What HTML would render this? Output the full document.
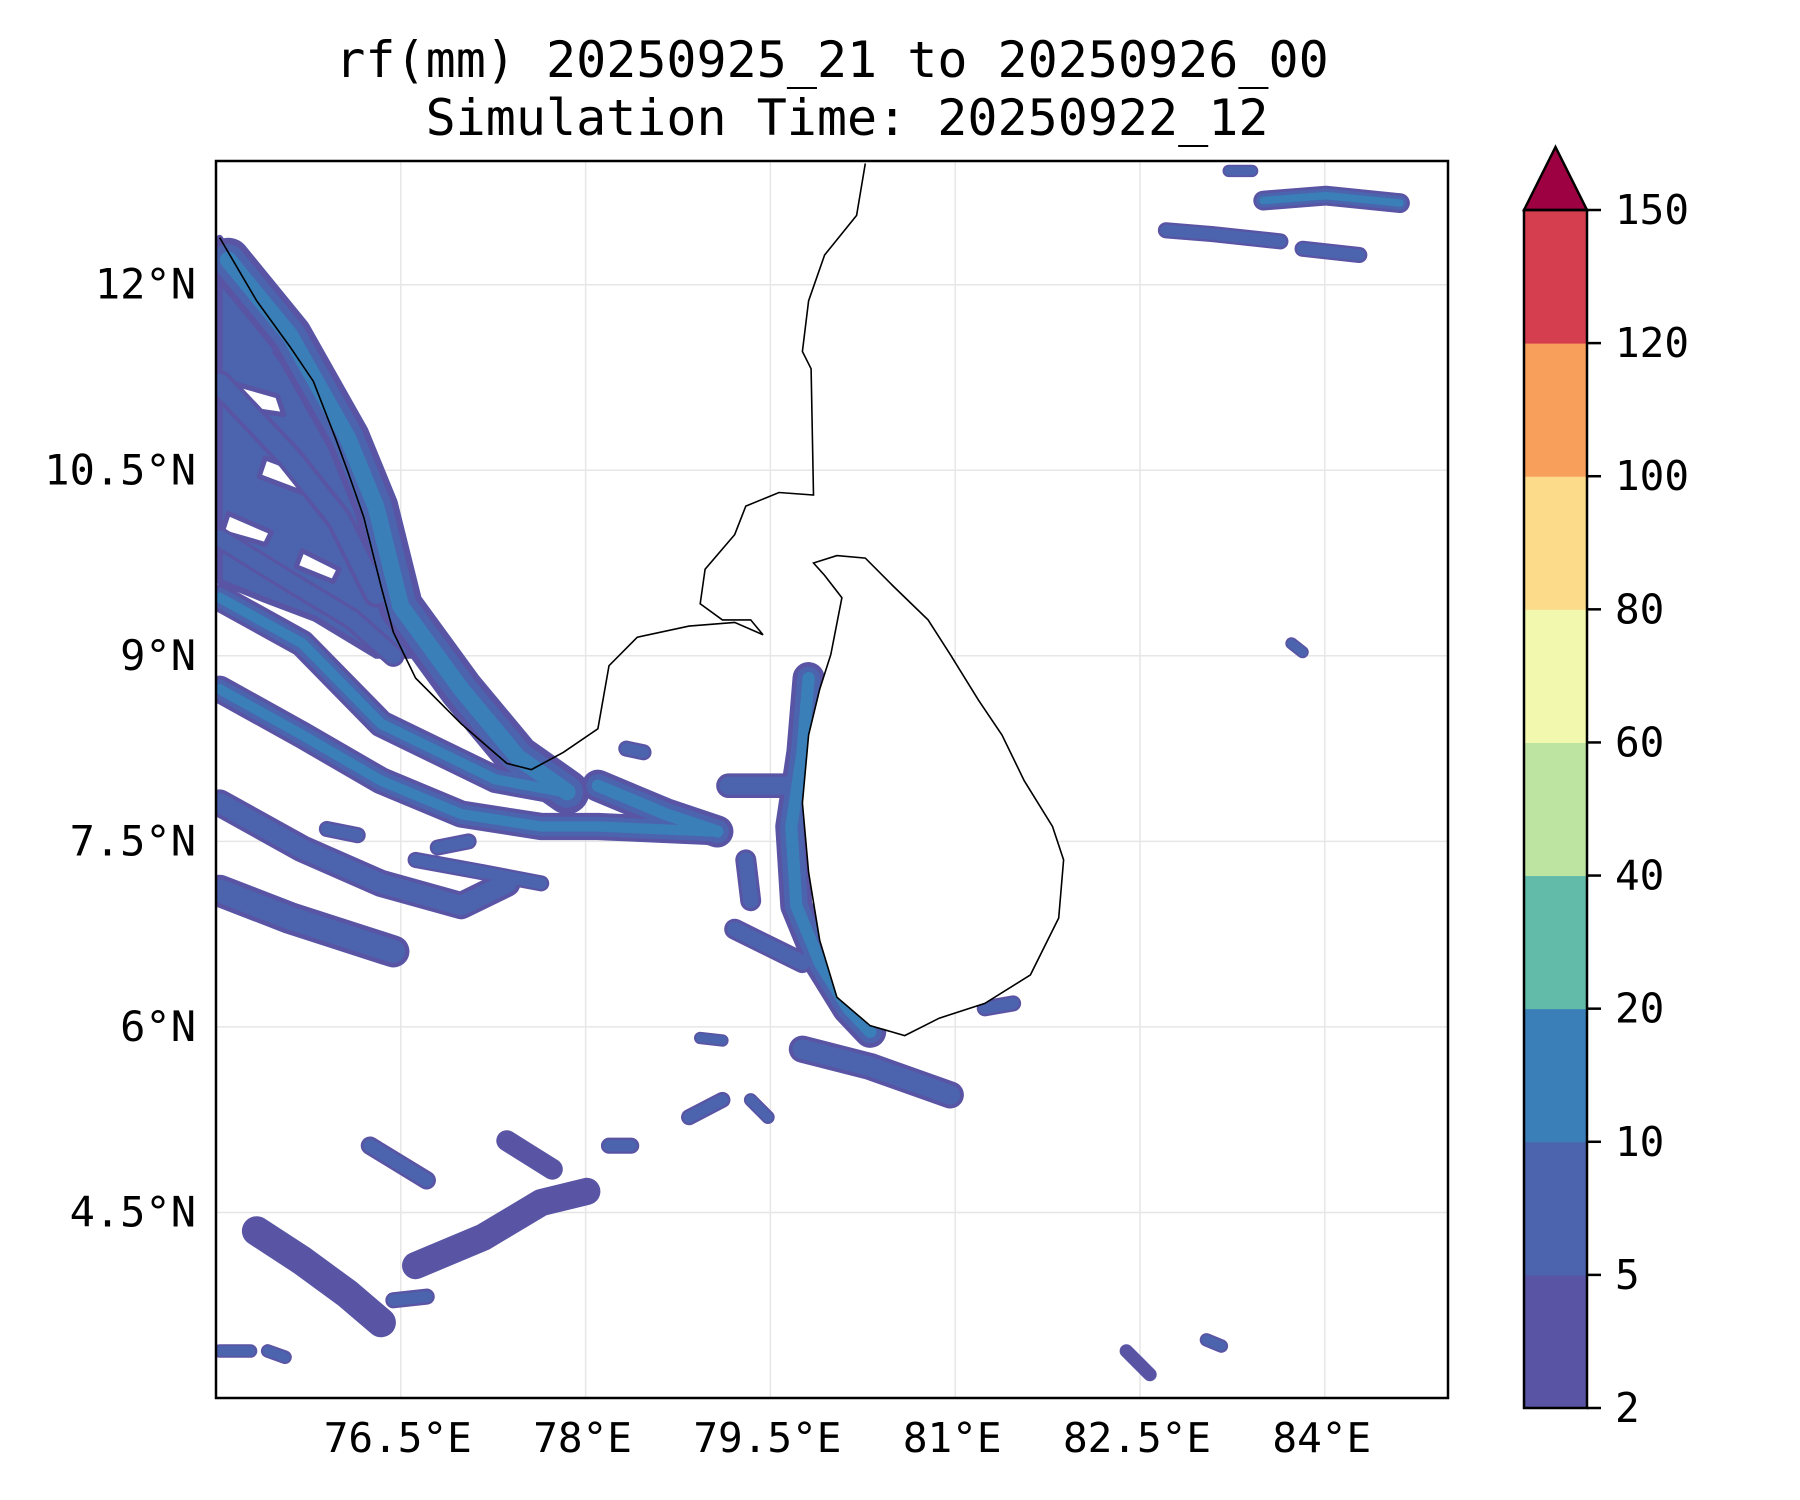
<!DOCTYPE html>
<html><head><meta charset="utf-8"><style>
html,body{margin:0;padding:0;background:#fff;}
svg{display:block;font-family:"DejaVu Sans Mono","Liberation Mono",monospace;}
</style></head><body>
<svg id="chart" width="1800" height="1500" viewBox="0 0 1800 1500">
<rect width="1800" height="1500" fill="#fff"/>
<text x="832" y="77" font-size="50" text-anchor="middle">rf(mm) 20250925_21 to 20250926_00</text>
<text x="847" y="135" font-size="50" text-anchor="middle">Simulation Time: 20250922_12</text>
<defs><clipPath id="mapclip"><rect x="216" y="161" width="1232" height="1237"/></clipPath></defs>
<g id="grid"></g>
<g id="rain" clip-path="url(#mapclip)"></g>
<g id="coast" clip-path="url(#mapclip)"></g>
<rect x="216" y="161" width="1232" height="1237" fill="none" stroke="#000" stroke-width="2.5"/>
<g id="axes"></g>
<g id="cbar"></g>
</svg>
<script>
const lonTicks=[76.5,78,79.5,81,82.5,84];
const latTicks=[12,10.5,9,7.5,6,4.5];
const lonTickLabels=["76.5°E","78°E","79.5°E","81°E","82.5°E","84°E"];
const latTickLabels=["12°N","10.5°N","9°N","7.5°N","6°N","4.5°N"];
const levels=[2,5,10,20,40,60,80,100,120,150];
const levelColors=["#5954a4","#4b64ad","#3a7fb8","#62bba9","#bde4a0","#f2f9ae","#fcdc8a","#f99f5c","#d53e4f"];
const extendColor="#9e0142";
// filled rain regions: [lon,lat] polygons
const regionPolys=[
 [[75.03,12.38],[75.3,12.0],[75.6,11.59],[76.07,10.76],[76.3,10.3],[76.44,10.12],[76.5,9.6],[76.55,9.3],[76.7,9.0],[76.3,9.0],[75.8,9.3],[75.4,9.45],[75.03,9.6]]
];
const regionLevels=[1];
// white holes inside regions (no rain)
const holePolys=[
 [[75.15,11.2],[75.5,11.1],[75.55,10.95],[75.2,11.0]],
 [[75.4,10.6],[75.8,10.45],[75.75,10.3],[75.35,10.45]],
 [[75.1,10.15],[75.45,10.0],[75.4,9.9],[75.05,10.0]],
 [[75.7,9.85],[76.0,9.7],[75.95,9.6],[75.65,9.72]],
 [[75.55,11.55],[75.75,11.3],[75.65,11.25],[75.48,11.45]]
];
// rain bands: centerline [lon,lat] points, width in degrees, level index
const bandPaths=[
 [[75.1,12.2],[75.6,11.59],[76.07,10.76],[76.3,10.2],[76.5,9.4],[76.99,8.73],[77.45,8.18],[77.85,7.9]],
 [[75.03,11.2],[75.6,10.6],[76.0,10.1],[76.3,9.5]],
 [[75.03,9.95],[75.6,9.6],[76.1,9.3],[76.44,9.0]],
 [[75.03,9.47],[75.7,9.1],[76.34,8.45],[77.27,8.0],[77.82,7.9]],
 [[75.03,8.73],[75.7,8.36],[76.34,7.99],[76.99,7.72],[77.64,7.62],[78.1,7.62],[79.02,7.58]],
 [[75.03,7.81],[75.7,7.44],[76.34,7.16],[76.99,6.98],[77.36,7.16]],
 [[75.03,7.1],[75.6,6.88],[76.44,6.61]],
 [[76.62,7.35],[77.17,7.25],[77.64,7.16]],
 [[78.1,7.95],[78.65,7.72],[79.07,7.58]],
 [[79.81,8.82],[79.76,8.22],[79.67,7.62],[79.71,6.98],[79.9,6.52],[80.13,6.15],[80.31,5.96]],
 [[79.16,7.95],[79.67,7.95]],
 [[79.21,6.79],[79.76,6.52]],
 [[79.76,5.82],[80.31,5.68],[80.96,5.45]],
 [[81.24,6.15],[81.47,6.19]],
 [[75.33,4.35],[75.7,4.11],[76.07,3.84],[76.34,3.61]],
 [[76.62,4.07],[77.17,4.3],[77.64,4.58],[78.01,4.67]],
 [[77.36,5.08],[77.73,4.85]],
 [[76.25,5.04],[76.71,4.76]],
 [[78.19,5.04],[78.37,5.04]],
 [[78.84,5.27],[79.11,5.41]],
 [[79.34,5.41],[79.48,5.27]],
 [[76.44,3.79],[76.71,3.82]],
 [[75.03,3.38],[75.28,3.38]],
 [[75.42,3.38],[75.56,3.33]],
 [[82.39,3.38],[82.58,3.19]],
 [[83.04,3.47],[83.16,3.42]],
 [[82.71,12.44],[83.08,12.41],[83.64,12.35]],
 [[83.5,12.68],[84.01,12.72],[84.61,12.66]],
 [[83.82,12.29],[84.28,12.24]],
 [[83.22,12.92],[83.41,12.92]],
 [[83.73,9.1],[83.82,9.03]],
 [[79.3,7.35],[79.34,7.02]],
 [[78.93,5.91],[79.11,5.89]],
 [[78.33,8.25],[78.47,8.22]],
 [[76.8,7.45],[77.05,7.5]],
 [[75.9,7.6],[76.15,7.55]]
];
const bandWidths=[0.36,0.22,0.18,0.22,0.22,0.22,0.26,0.13,0.26,0.26,0.2,0.17,0.22,0.13,0.24,0.22,0.17,0.15,0.13,0.13,0.11,0.13,0.11,0.11,0.11,0.11,0.13,0.16,0.13,0.1,0.1,0.17,0.1,0.13,0.13,0.13];
const bandLevels=[2,1,1,2,2,1,1,1,2,2,1,1,1,1,0,0,0,1,1,1,1,1,1,1,0,1,1,2,1,1,1,1,1,1,1,1];
const indiaCoast=[[80.27,12.98],[80.2,12.56],[79.94,12.24],[79.81,11.87],[79.76,11.46],[79.83,11.32],[79.85,10.3],[79.57,10.32],[79.3,10.21],[79.21,9.98],[78.97,9.7],[78.93,9.42],[79.11,9.29],[79.34,9.29],[79.44,9.17],[79.21,9.27],[78.84,9.24],[78.42,9.15],[78.19,8.92],[78.1,8.41],[77.82,8.22],[77.56,8.08],[77.36,8.13],[76.99,8.45],[76.62,8.82],[76.44,9.19],[76.34,9.56],[76.2,10.12],[76.07,10.49],[75.97,10.76],[75.79,11.22],[75.6,11.5],[75.33,11.87],[75.03,12.38]];
const lankaCoast=[[79.85,9.75],[80.04,9.81],[80.27,9.79],[80.5,9.56],[80.78,9.29],[80.96,9.01],[81.19,8.64],[81.38,8.36],[81.56,7.99],[81.79,7.62],[81.88,7.35],[81.84,6.88],[81.61,6.42],[81.24,6.19],[80.87,6.07],[80.59,5.93],[80.31,6.01],[80.04,6.24],[79.9,6.7],[79.81,7.25],[79.76,7.81],[79.81,8.36],[79.9,8.73],[79.99,9.01],[80.08,9.47],[79.94,9.65]];
const X=lon=>216+(lon-75)*123.2;
const Y=lat=>161+(13-lat)*123.7;
const NS="http://www.w3.org/2000/svg";
function mk(tag,parent){const e=document.createElementNS(NS,tag);parent.appendChild(e);return e;}
const pts2=a=>a.map(q=>X(q[0]).toFixed(1)+','+Y(q[1]).toFixed(1)).join(' ');
const grid=document.getElementById('grid');
lonTicks.forEach(v=>{const l=mk('line',grid);l.setAttribute('x1',X(v));l.setAttribute('x2',X(v));l.setAttribute('y1',161);l.setAttribute('y2',1398);l.setAttribute('stroke','#e6e6e6');l.setAttribute('stroke-width',1.5);

});
latTicks.forEach(v=>{const l=mk('line',grid);l.setAttribute('y1',Y(v));l.setAttribute('y2',Y(v));l.setAttribute('x1',216);l.setAttribute('x2',1448);l.setAttribute('stroke','#e6e6e6');l.setAttribute('stroke-width',1.5);

});
const rain=document.getElementById('rain');
regionPolys.forEach((poly,i)=>{
 const p=mk('polygon',rain);p.setAttribute('points',pts2(poly));p.setAttribute('fill',levelColors[regionLevels[i]]);
 p.setAttribute('stroke',levelColors[0]);p.setAttribute('stroke-width',6);p.setAttribute('stroke-linejoin','round');
 
 
});
holePolys.forEach(poly=>{
 const p=mk('polygon',rain);p.setAttribute('points',pts2(poly));p.setAttribute('fill','#fff');
 p.setAttribute('stroke',levelColors[0]);p.setAttribute('stroke-width',5);p.setAttribute('stroke-linejoin','round');
 
 
});
const dpx=123.5;
const frac=[1,0.72,0.38,0.1];
for(let lev=0;lev<=3;lev++){
 bandPaths.forEach((pts,i)=>{
  if(lev>0&&bandLevels[i]<lev)return;
  if(lev===3&&i!==0&&i!==9&&i!==8)return;
  const w=bandWidths[i]*dpx*frac[lev];
  const p=mk('polyline',rain);
  p.setAttribute('points',pts2(pts));
  p.setAttribute('fill','none');p.setAttribute('stroke',levelColors[lev]);p.setAttribute('stroke-width',w.toFixed(1));
  p.setAttribute('stroke-linejoin','round');p.setAttribute('stroke-linecap','round');
  
  
 });
}
const coast=document.getElementById('coast');
[[indiaCoast,'india-coastline'],[lankaCoast,'sri-lanka-coastline']].forEach(([c,n],k)=>{
 const p=mk(k===1?'polygon':'polyline',coast);
 p.setAttribute('points',pts2(c));
 p.setAttribute('fill',k===1?'#fff':'none');p.setAttribute('stroke','#000');p.setAttribute('stroke-width',1.6);
 
 
});
const axes=document.getElementById('axes');
lonTicks.forEach((v,i)=>{const t=mk('text',axes);t.setAttribute('x',X(v)-3);t.setAttribute('y',1452);t.setAttribute('font-size',41);t.setAttribute('text-anchor','middle');t.textContent=lonTickLabels[i];

});
latTicks.forEach((v,i)=>{const t=mk('text',axes);t.setAttribute('x',196);t.setAttribute('y',Y(v)+14);t.setAttribute('font-size',42);t.setAttribute('text-anchor','end');t.textContent=latTickLabels[i];

});
const cb=document.getElementById('cbar');
const cbX=1524,cbW=63,cbB=1408,cbT=210;
const CY=i=>cbB-(cbB-cbT)*i/(levels.length-1);
levelColors.forEach((c,i)=>{const r=mk('rect',cb);r.setAttribute('x',cbX);r.setAttribute('y',CY(i+1));r.setAttribute('width',cbW);r.setAttribute('height',CY(i)-CY(i+1)+0.5);r.setAttribute('fill',c);

});
const tri=mk('polygon',cb);tri.setAttribute('points',`${cbX},${cbT} ${cbX+cbW/2},147 ${cbX+cbW},${cbT}`);tri.setAttribute('fill',extendColor);tri.setAttribute('stroke','#000');tri.setAttribute('stroke-width',2.5);


const fr=mk('rect',cb);fr.setAttribute('x',cbX);fr.setAttribute('y',cbT);fr.setAttribute('width',cbW);fr.setAttribute('height',cbB-cbT);fr.setAttribute('fill','none');fr.setAttribute('stroke','#000');fr.setAttribute('stroke-width',2.5);


levels.forEach((v,i)=>{const y=CY(i);const l=mk('line',cb);l.setAttribute('x1',cbX+cbW);l.setAttribute('x2',cbX+cbW+14);l.setAttribute('y1',y);l.setAttribute('y2',y);l.setAttribute('stroke','#000');l.setAttribute('stroke-width',2.5);


const t=mk('text',cb);t.setAttribute('x',cbX+cbW+28);t.setAttribute('y',y+14);t.setAttribute('font-size',41);t.textContent=v;

});
</script>
</body></html>
